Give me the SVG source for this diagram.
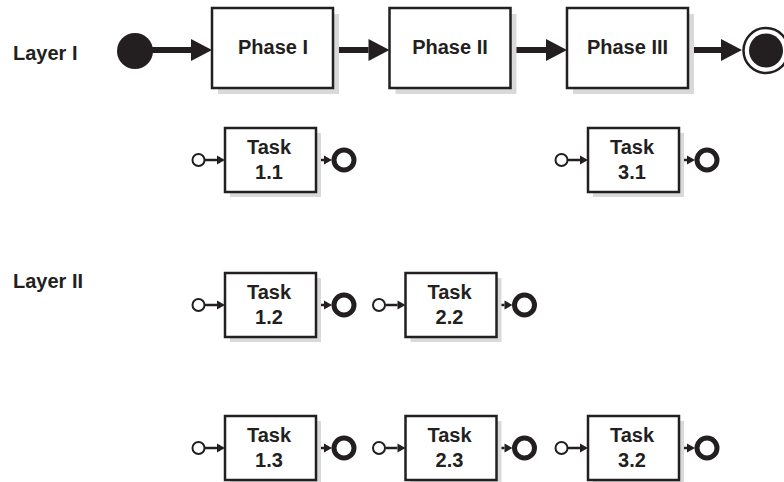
<svg xmlns="http://www.w3.org/2000/svg" width="784" height="482" viewBox="0 0 784 482">
  <style>
    text { font-family: "Liberation Sans", Arial, sans-serif; font-weight: bold; font-size: 20px; fill: #231f20; }
    .lbl { text-anchor: middle; }
    .shadow { fill: #d9d9d9; }
    .box { fill: #ffffff; stroke: #231f20; stroke-width: 2.5; }
    .big { stroke: #231f20; stroke-width: 6; fill: none; }
    .small { stroke: #231f20; stroke-width: 2.5; fill: none; }
    .start { fill: #ffffff; stroke: #231f20; stroke-width: 2; }
    .end { fill: #ffffff; stroke: #231f20; stroke-width: 5; }
    .solid { fill: #231f20; }
  </style>
  <defs>
    <marker id="bigHead" markerUnits="userSpaceOnUse" markerWidth="21" markerHeight="22" refX="0" refY="11" orient="auto" overflow="visible">
      <path d="M0,0 L21,11 L0,22 Z" fill="#231f20"/>
    </marker>
    <marker id="smallHead" markerUnits="userSpaceOnUse" markerWidth="8" markerHeight="9" refX="0" refY="4.5" orient="auto" overflow="visible">
      <path d="M0,0 L8,4.5 L0,9 Z" fill="#231f20"/>
    </marker>
  </defs>

  <text x="13" y="60">Layer I</text>
  <text x="13" y="288">Layer II</text>

  <g id="connectors">
    <line class="big" x1="150" y1="50" x2="191" y2="50" marker-end="url(#bigHead)"/>
    <line class="big" x1="333" y1="50" x2="368.5" y2="50" marker-end="url(#bigHead)"/>
    <line class="big" x1="511" y1="50" x2="546" y2="50" marker-end="url(#bigHead)"/>
    <line class="big" x1="688" y1="50" x2="721" y2="50" marker-end="url(#bigHead)"/>

    <line class="small" x1="205" y1="160" x2="217" y2="160" marker-end="url(#smallHead)"/>
    <line class="small" x1="316" y1="160" x2="324" y2="160" marker-end="url(#smallHead)"/>
    <line class="small" x1="568" y1="160" x2="580" y2="160" marker-end="url(#smallHead)"/>
    <line class="small" x1="679" y1="160" x2="687" y2="160" marker-end="url(#smallHead)"/>

    <line class="small" x1="205" y1="305" x2="217" y2="305" marker-end="url(#smallHead)"/>
    <line class="small" x1="316" y1="305" x2="324" y2="305" marker-end="url(#smallHead)"/>
    <line class="small" x1="385.5" y1="305" x2="397.5" y2="305" marker-end="url(#smallHead)"/>
    <line class="small" x1="496.5" y1="305" x2="504.5" y2="305" marker-end="url(#smallHead)"/>

    <line class="small" x1="205" y1="448" x2="217" y2="448" marker-end="url(#smallHead)"/>
    <line class="small" x1="316" y1="448" x2="324" y2="448" marker-end="url(#smallHead)"/>
    <line class="small" x1="385.5" y1="448" x2="397.5" y2="448" marker-end="url(#smallHead)"/>
    <line class="small" x1="496.5" y1="448" x2="504.5" y2="448" marker-end="url(#smallHead)"/>
    <line class="small" x1="568" y1="448" x2="580" y2="448" marker-end="url(#smallHead)"/>
    <line class="small" x1="679" y1="448" x2="687" y2="448" marker-end="url(#smallHead)"/>
  </g>

  <g id="initial">
    <circle class="solid" cx="135" cy="51" r="18"/>
  </g>
  <g id="final">
    <circle cx="766" cy="50.5" r="22.5" fill="#ffffff" stroke="#231f20" stroke-width="2.5"/>
    <circle class="solid" cx="766" cy="50.5" r="17"/>
  </g>

  <g id="phase1">
    <rect class="shadow" x="218" y="14" width="121" height="80"/>
    <rect class="box" x="212" y="8" width="121" height="80"/>
    <text class="lbl" x="273" y="54">Phase I</text>
  </g>
  <g id="phase2">
    <rect class="shadow" x="395.5" y="14" width="121" height="80"/>
    <rect class="box" x="389.5" y="8" width="121" height="80"/>
    <text class="lbl" x="450" y="54">Phase II</text>
  </g>
  <g id="phase3">
    <rect class="shadow" x="573" y="14" width="121" height="80"/>
    <rect class="box" x="567" y="8" width="121" height="80"/>
    <text class="lbl" x="627.5" y="54">Phase III</text>
  </g>

  <!-- Row 1 -->
  <g id="task11-start"><circle class="start" cx="198.5" cy="160" r="6"/></g>
  <g id="task11">
    <rect class="shadow" x="230" y="133" width="91" height="64"/>
    <rect class="box" x="225" y="128" width="91" height="64"/>
    <text class="lbl" x="269" y="154">Task</text>
    <text class="lbl" x="269" y="179">1.1</text>
  </g>
  <g id="task11-end"><circle class="end" cx="344" cy="160" r="10"/></g>

  <g id="task31-start"><circle class="start" cx="561.5" cy="160" r="6"/></g>
  <g id="task31">
    <rect class="shadow" x="593" y="133" width="91" height="64"/>
    <rect class="box" x="588" y="128" width="91" height="64"/>
    <text class="lbl" x="632" y="154">Task</text>
    <text class="lbl" x="632" y="179">3.1</text>
  </g>
  <g id="task31-end"><circle class="end" cx="707" cy="160" r="10"/></g>

  <!-- Row 2 -->
  <g id="task12-start"><circle class="start" cx="198.5" cy="305" r="6"/></g>
  <g id="task12">
    <rect class="shadow" x="230" y="278" width="91" height="64"/>
    <rect class="box" x="225" y="273" width="91" height="64"/>
    <text class="lbl" x="269" y="299">Task</text>
    <text class="lbl" x="269" y="324">1.2</text>
  </g>
  <g id="task12-end"><circle class="end" cx="344" cy="305" r="10"/></g>

  <g id="task22-start"><circle class="start" cx="379" cy="305" r="6"/></g>
  <g id="task22">
    <rect class="shadow" x="410.5" y="278" width="91" height="64"/>
    <rect class="box" x="405.5" y="273" width="91" height="64"/>
    <text class="lbl" x="449.5" y="299">Task</text>
    <text class="lbl" x="449.5" y="324">2.2</text>
  </g>
  <g id="task22-end"><circle class="end" cx="524.5" cy="305" r="10"/></g>

  <!-- Row 3 -->
  <g id="task13-start"><circle class="start" cx="198.5" cy="448" r="6"/></g>
  <g id="task13">
    <rect class="shadow" x="230" y="421" width="91" height="64"/>
    <rect class="box" x="225" y="416" width="91" height="64"/>
    <text class="lbl" x="269" y="442">Task</text>
    <text class="lbl" x="269" y="467">1.3</text>
  </g>
  <g id="task13-end"><circle class="end" cx="344" cy="448" r="10"/></g>

  <g id="task23-start"><circle class="start" cx="379" cy="448" r="6"/></g>
  <g id="task23">
    <rect class="shadow" x="410.5" y="421" width="91" height="64"/>
    <rect class="box" x="405.5" y="416" width="91" height="64"/>
    <text class="lbl" x="449.5" y="442">Task</text>
    <text class="lbl" x="449.5" y="467">2.3</text>
  </g>
  <g id="task23-end"><circle class="end" cx="524.5" cy="448" r="10"/></g>

  <g id="task32-start"><circle class="start" cx="561.5" cy="448" r="6"/></g>
  <g id="task32">
    <rect class="shadow" x="593" y="421" width="91" height="64"/>
    <rect class="box" x="588" y="416" width="91" height="64"/>
    <text class="lbl" x="632" y="442">Task</text>
    <text class="lbl" x="632" y="467">3.2</text>
  </g>
  <g id="task32-end"><circle class="end" cx="707" cy="448" r="10"/></g>
</svg>
